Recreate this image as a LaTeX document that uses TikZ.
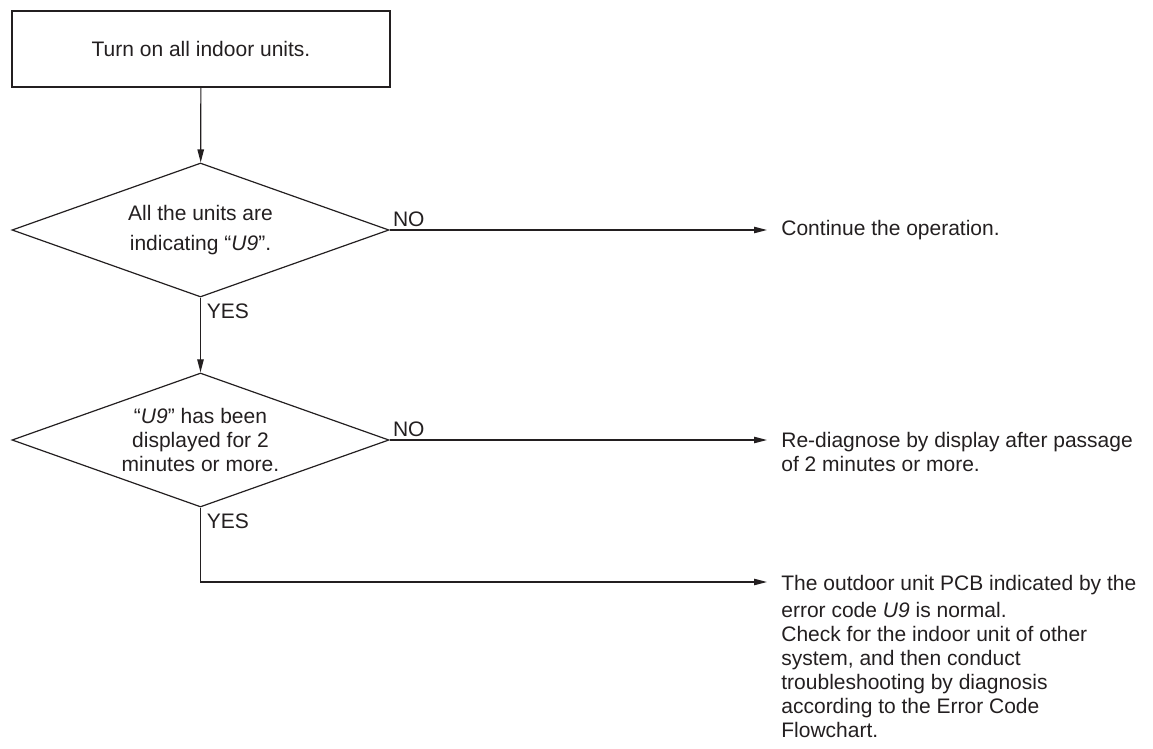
\documentclass[tikz,border=0pt]{standalone}
\usepackage{fontspec}
\setmainfont{Liberation Sans}
\usepackage{tikz}
\usetikzlibrary{arrows.meta,positioning,shapes.geometric,calc}
\definecolor{inkgrey}{RGB}{35,31,32}
\tikzset{
  base/.style={font=\fontsize{10.5}{12}\selectfont, text=inkgrey, inner sep=0pt},
  startbox/.style={base, rectangle, draw=inkgrey, line width=0.6pt, minimum width=189pt, minimum height=38pt},
  dec/.style={base, diamond, aspect=2.81, draw=inkgrey, line width=0.6pt, minimum width=188.5pt, minimum height=67pt, align=center},
  res/.style={base, align=left, anchor=north west},
  arr/.style={-{Triangle[length=6.5pt,width=3.2pt]}, line width=0.6pt, draw=inkgrey},
  lbl/.style={base, inner sep=1.5pt},
}
\begin{document}
\begin{tikzpicture}[x=0.5pt,y=-0.5pt]
  \useasboundingbox (0,0) rectangle (1153,749);
  % steps and checks
  \node[startbox] (start) at (201,49) {Turn on all indoor units.};
  \node[dec] (d1) at (200.5,230) {All the units are\\[3pt] indicating “{\itshape U9}”.};
  \node[dec] (d2) at (200.5,440) {“{\itshape U9}” has been\\ displayed for 2\\ minutes or more.};
  % results
  \node[base, anchor=west] (res1) at (781,230) {Continue the operation.};
  \node[res] (res2) at (781,432) {Re-diagnose by display after passage\\ of 2 minutes or more.};
  \node[res] (res3) at (781,575) {The outdoor unit PCB indicated by the\\[1.5pt] error code {\itshape U9} is normal.\\ Check for the indoor unit of other\\ system, and then conduct\\ troubleshooting by diagnosis\\ according to the Error Code\\ Flowchart.};
  % connectors
  \draw[arr] (start) -- (d1);
  \draw[arr] (d1) -- (d2);
  \draw[arr, shorten >=7pt] (d1.east) -- (d1.east -| res1.west);
  \draw[arr, shorten >=7pt] (d2.east) -- (d2.east -| res2.west);
  \draw[arr, shorten >=7pt] (d2.south) |- ($(res3.north west)+(0,7)$);
  % branch labels
  \node[lbl, anchor=south west] (no1) at (d1.east) {NO};
  \node[lbl, anchor=south west] (no2) at (d2.east) {NO};
  \node[lbl, anchor=north west, inner sep=3pt] (yes1) at (d1.south) {YES};
  \node[lbl, anchor=north west, inner sep=3pt] (yes2) at (d2.south) {YES};
\end{tikzpicture}
\end{document}
